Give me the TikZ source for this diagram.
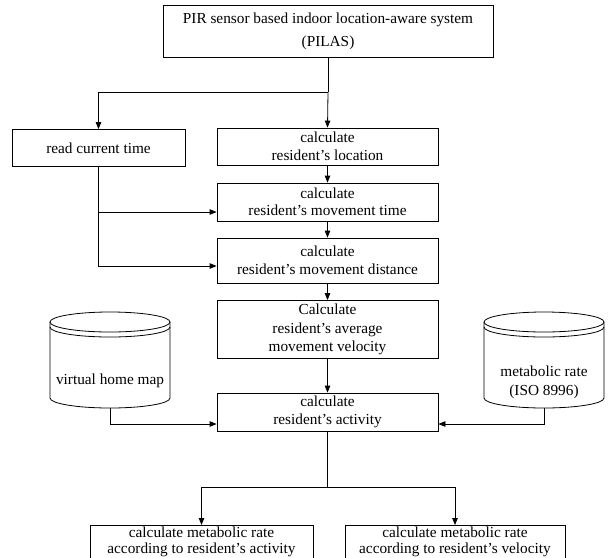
\documentclass[tikz,border=0pt]{standalone}
\usepackage{fontspec}
\setmainfont{Liberation Serif}
\usepackage{tikz}
\usetikzlibrary{arrows.meta,positioning,calc}

\begin{document}
\begin{tikzpicture}[x=1pt,y=1pt,yscale=-1,xscale=1,
	box/.style={draw,line width=0.8pt,inner sep=0pt,align=center,
		font=\fontsize{15.3}{17.5}\selectfont},
	frame/.style={draw,line width=0.8pt,inner sep=0pt,anchor=north,minimum height=40},
	link/.style={line width=0.8pt,-{Triangle[length=7pt,width=5.5pt]}},
	plain/.style={line width=0.8pt},
	cyltext/.style={inner sep=0pt,align=center,font=\fontsize{15.3}{19}\selectfont},
	lowtext/.style={inner sep=0pt,align=center,font=\fontsize{15.3}{16}\selectfont}]
	\useasboundingbox (0,0) rectangle (609,557);

	% Top
	\node [box,minimum width=330,minimum height=52] (pilas) at (328,31)
		{PIR sensor based indoor location-aware system\\[5.5pt](PILAS)};
	\coordinate (split) at (328,92);

	% Second row
	\node [box,minimum width=173,minimum height=37] (readtime) at (98.5,148) {read current time};
	\node [box,minimum width=221,minimum height=37] (location) at (327.5,146.5)
		{calculate\\resident's location};

	% Middle column
	\node [box,minimum width=221,minimum height=38] (movetime) at (327.5,202)
		{calculate\\resident's movement time};
	\node [box,minimum width=221,minimum height=45] (distance) at (327.5,260.5)
		{calculate\\resident's movement distance};
	\node [box,minimum width=221,minimum height=58] (velocity) at (327.5,329.5)
		{Calculate\\[1pt]resident's average\\[1pt]movement velocity};
	\node [box,minimum width=221,minimum height=38] (activity) at (327.5,412)
		{calculate\\resident's activity};

	% Shape: Cylinder (left)
	\draw [plain] (50,322) -- (50,398) arc [start angle=180,end angle=0,x radius=60,y radius=10] -- (170,322);
	\draw [plain] (110,322) ellipse [x radius=60,y radius=10];
	\draw [plain] (50,327) arc [start angle=180,end angle=0,x radius=60,y radius=10];
	\node [cyltext] (homemap) at (110,381) {virtual home map};
	\coordinate (homebot) at (110,408);

	% Shape: Cylinder (right)
	\draw [plain] (484,322) -- (484,398) arc [start angle=180,end angle=0,x radius=60,y radius=10] -- (604,322);
	\draw [plain] (544,322) ellipse [x radius=60,y radius=10];
	\draw [plain] (484,327) arc [start angle=180,end angle=0,x radius=60,y radius=10];
	\node [cyltext] (isorate) at (544,382) {metabolic rate\\(ISO 8996)};
	\coordinate (isobot) at (544,408);

	% Bottom row (boxes run past the lower edge)
	\coordinate (fork) at (327.5,487);
	\node [frame,minimum width=223] (byact) at (201.5,525) {};
	\node [lowtext] (byacttext) at (201.5,541.5)
		{calculate metabolic rate\\according to resident's activity};
	\node [frame,minimum width=220] (byvel) at (455,525) {};
	\node [lowtext] (byveltext) at (455,541.5)
		{calculate metabolic rate\\according to resident's velocity};

	% Connectors
	\draw [plain] (pilas.south) -- (split);
	\draw [link] (split) -| (readtime.north);
	\draw [link] (split) -- (location.north);
	\draw [link] (location) -- (movetime);
	\draw [link] (movetime) -- (distance);
	\draw [link] (distance) -- (velocity);
	\draw [link] (velocity) -- (activity);
	\draw [link] (readtime.south) |- ($(movetime.west)+(0,10)$);
	\draw [link] (readtime.south) |- ($(distance.west)+(0,5.5)$);
	\draw [link] (homebot) |- ($(activity.west)+(0,12)$);
	\draw [link] (isobot) |- ($(activity.east)+(0,12)$);
	\draw [plain] (activity.south) -- (fork);
	\draw [link] (fork) -| (byact.north);
	\draw [link] (fork) -| (byvel.north);
\end{tikzpicture}
\end{document}
